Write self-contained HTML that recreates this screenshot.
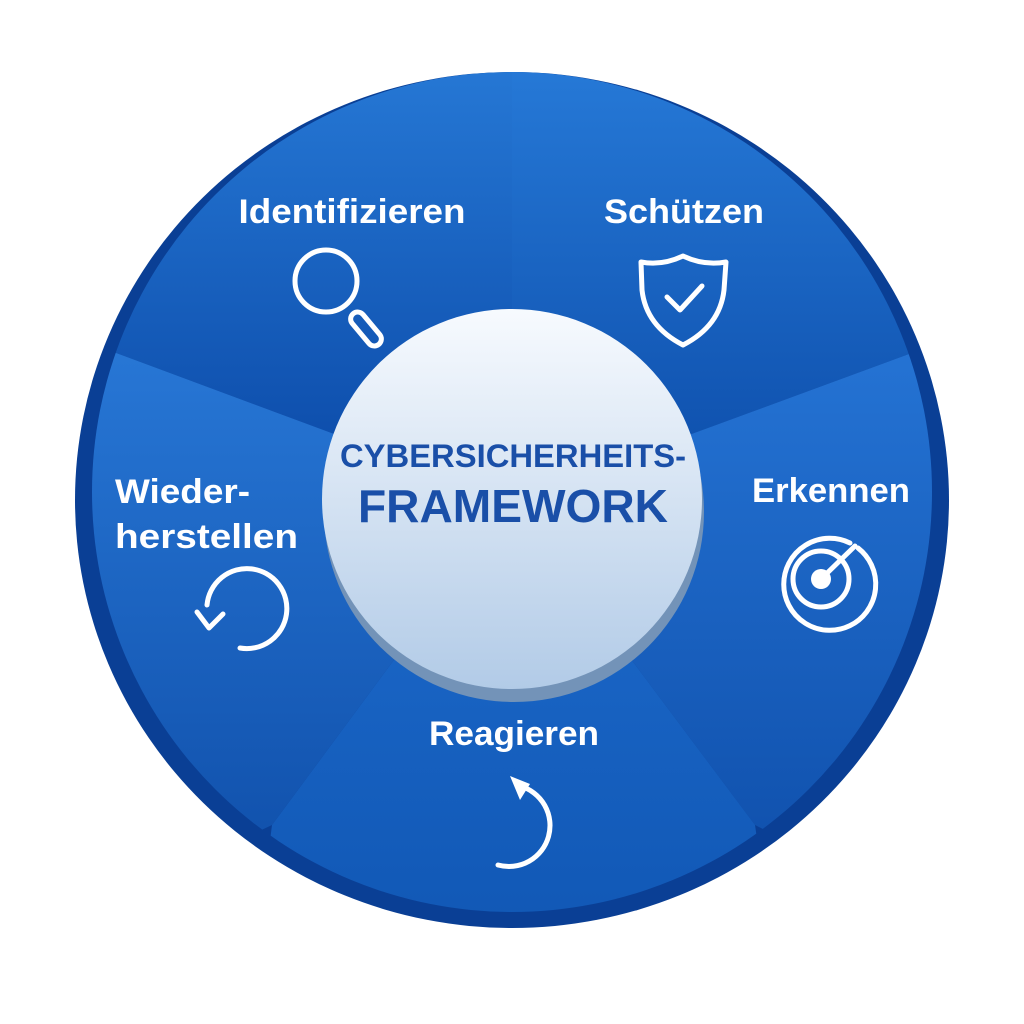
<!DOCTYPE html>
<html><head><meta charset="utf-8"><style>
html,body{margin:0;padding:0;background:#fff;}
svg{display:block;}
text{font-family:"Liberation Sans",sans-serif;font-weight:bold;}
</style></head><body>
<svg width="1024" height="1024" viewBox="0 0 1024 1024" xmlns="http://www.w3.org/2000/svg">
<defs>
<linearGradient id="gTL" x1="0" y1="0" x2="0" y2="1"><stop offset="0" stop-color="#2a7fdc"/><stop offset="1" stop-color="#0a48a6"/></linearGradient>
<linearGradient id="gTR" x1="0" y1="0" x2="0" y2="1"><stop offset="0" stop-color="#2a80de"/><stop offset="1" stop-color="#0c4ca9"/></linearGradient>
<linearGradient id="gR" x1="0" y1="0" x2="0" y2="1"><stop offset="0" stop-color="#2777d8"/><stop offset="1" stop-color="#0a47a2"/></linearGradient>
<linearGradient id="gB" x1="0" y1="0" x2="0" y2="1"><stop offset="0" stop-color="#1d6acb"/><stop offset="1" stop-color="#0f55b2"/></linearGradient>
<linearGradient id="gL" x1="0" y1="0" x2="0" y2="1"><stop offset="0" stop-color="#2a7bda"/><stop offset="1" stop-color="#0a46a0"/></linearGradient>
<linearGradient id="gHub" x1="0" y1="0" x2="0" y2="1"><stop offset="0" stop-color="#f7fafe"/><stop offset="1" stop-color="#b2cbe7"/></linearGradient>
<clipPath id="face"><circle cx="512" cy="492" r="420"/></clipPath>
</defs>
<ellipse cx="512" cy="500" rx="437" ry="428" fill="#0a3f95"/>
<g clip-path="url(#face)">
<polygon points="512,500 512,0 -100,0 -100,290 108,350" fill="url(#gTL)"/>
<polygon points="512,500 512,0 1100,0 1100,290 920,350" fill="url(#gTR)"/>
<polygon points="512,500 920,350 1100,290 1100,1000 755,825" fill="url(#gR)"/>
<polygon points="512,500 755,825 780,1000 250,1000 272,825" fill="url(#gB)"/>
<polygon points="512,500 272,825 -100,1000 -100,290 108,350" fill="url(#gL)"/>
</g>
<circle cx="514" cy="512" r="190" fill="#7393b8"/>
<circle cx="512" cy="499" r="190" fill="url(#gHub)"/>
<text x="513" y="467" text-anchor="middle" font-size="32" fill="#1a4fa8" textLength="346" lengthAdjust="spacingAndGlyphs">CYBERSICHERHEITS-</text>
<text x="513" y="522" text-anchor="middle" font-size="46" fill="#1a4fa8" textLength="310" lengthAdjust="spacingAndGlyphs">FRAMEWORK</text>
<g fill="#fff" font-size="34">
<text x="352" y="223" text-anchor="middle" textLength="227" lengthAdjust="spacingAndGlyphs">Identifizieren</text>
<text x="684" y="223" text-anchor="middle" textLength="160" lengthAdjust="spacingAndGlyphs">Schützen</text>
<text x="831" y="502" text-anchor="middle" textLength="158" lengthAdjust="spacingAndGlyphs">Erkennen</text>
<text x="115" y="503" textLength="135" lengthAdjust="spacingAndGlyphs">Wieder-</text>
<text x="115" y="548" textLength="183" lengthAdjust="spacingAndGlyphs">herstellen</text>
<text x="514" y="745" text-anchor="middle" textLength="170" lengthAdjust="spacingAndGlyphs">Reagieren</text>
</g>
<g fill="none" stroke="#fff" stroke-width="5" stroke-linecap="round" stroke-linejoin="round">
<circle cx="326" cy="281" r="31"/>
<rect x="346" y="322" width="40" height="14" rx="7" transform="rotate(50 366 329)"/>
<path d="M641 262 Q662 266 683 256 Q704 266 726 262 L724 290 Q720 326 683 345 Q646 326 642 290 Z"/>
<path d="M667 297 L680 310 L702 286"/>
<circle cx="821" cy="579" r="28"/>
<path d="M858 548 A46 46 0 1 1 850 543"/>
<path d="M821 579 L855 546"/>
<path d="M240 648 A40 40 0 1 0 207 605"/>
<path d="M197 612 L209 628 L223 614"/>
<path d="M520 786 A38 38 0 0 1 498 865"/>
</g>
<circle cx="821" cy="579" r="10" fill="#fff"/>
<polygon points="510,776 530,784 520,800" fill="#fff"/>
</svg>
</body></html>
